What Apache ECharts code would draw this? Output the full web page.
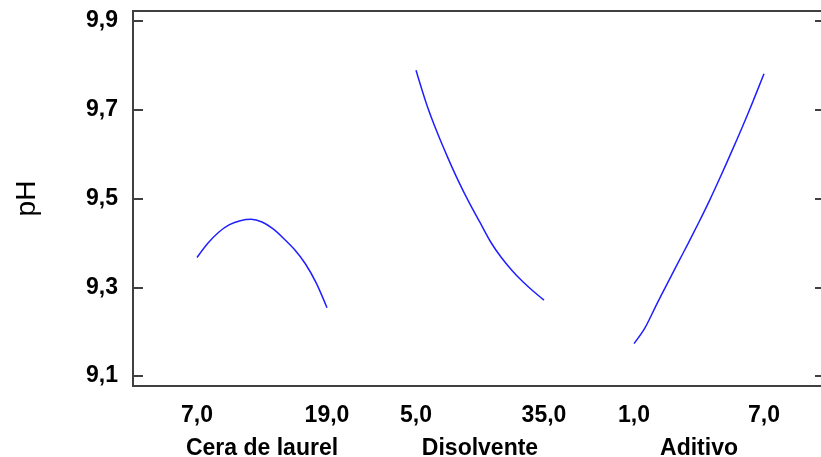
<!DOCTYPE html>
<html>
<head>
<meta charset="utf-8">
<script src="https://cdn.jsdelivr.net/npm/echarts@6/dist/echarts.min.js"></script>
<style>
  html, body { margin: 0; padding: 0; background: #fff; }
  #main { width: 821px; height: 457px; }
</style>
</head>
<body>
<div id="main"></div>
<script>
// y axis
var yMin = 9.0775, yMax = 9.9225;
var yTicks = [9.1, 9.3, 9.5, 9.7, 9.9];

// factors
var factorNames = ['Cera de laurel', 'Disolvente', 'Aditivo'];

var ceraX = [7, 8, 9, 10, 11, 12, 13, 14, 15, 16, 17, 18, 19];
var ceraY = [9.367, 9.399, 9.424, 9.441, 9.450, 9.453, 9.447, 9.432, 9.410, 9.385, 9.353, 9.310, 9.254];

var disX = [5, 7.5, 10, 12.5, 15, 17.5, 20, 22.5, 25, 27.5, 30, 32.5, 35];
var disY = [9.789, 9.712, 9.648, 9.591, 9.538, 9.490, 9.446, 9.402, 9.367, 9.338, 9.313, 9.291, 9.271];

var aditX = [1, 1.5, 2, 2.5, 3, 3.5, 4, 4.5, 5, 5.5, 6, 6.5, 7];
var aditY = [9.173, 9.208, 9.257, 9.305, 9.352, 9.399, 9.447, 9.497, 9.550, 9.605, 9.661, 9.720, 9.781];

var xs = [ceraX, disX, aditX];
var ys = [ceraY, disY, aditY];

var myChart = echarts.init(document.getElementById('main'));

function fmt(v) {
    return v.toFixed(1).replace('.', ',');
}

var TOP = 11, BOTTOM = 71;
var segLeft = [197, 416, 634];
var segWidth = [130, 128, 130];
var labelFont = { fontFamily: 'Liberation Sans', fontWeight: 'bold', fontSize: 23, color: '#000' };

var grids = [{
    left: 133, top: TOP, width: 692, bottom: BOTTOM, outerBoundsMode: 'none',
    show: true, borderColor: '#404040', borderWidth: 2
}];
var xAxes = [{ gridIndex: 0, type: 'value', min: 0, max: 1, show: false }];
var yAxes = [
    {
        gridIndex: 0, type: 'value', min: yMin, max: yMax, position: 'left',
        axisLine: { show: false },
        splitLine: { show: false },
        axisTick: { inside: true, length: 10, lineStyle: { color: '#404040', width: 2 }, customValues: yTicks },
        axisLabel: Object.assign({ margin: 15, formatter: fmt, customValues: yTicks }, labelFont),
        name: 'pH', nameLocation: 'middle', nameRotate: 90, nameGap: 92,
        nameTextStyle: { fontFamily: 'Liberation Sans', fontSize: 28, color: '#000' }
    },
    {
        gridIndex: 0, type: 'value', min: yMin, max: yMax, position: 'right',
        axisLine: { show: false },
        splitLine: { show: false },
        axisLabel: { show: false },
        axisTick: { inside: true, length: 10, lineStyle: { color: '#404040', width: 2 }, customValues: yTicks }
    }
];
var series = [];

for (var i = 0; i < 3; i++) {
    var xv = xs[i];
    var lo = xv[0], hi = xv[xv.length - 1];
    grids.push({ left: segLeft[i], top: TOP, width: segWidth[i], bottom: BOTTOM, outerBoundsMode: 'none' });
    xAxes.push({
        gridIndex: i + 1, type: 'value', min: lo, max: hi,
        axisLine: { show: false },
        axisTick: { show: false },
        splitLine: { show: false },
        axisLabel: Object.assign({ margin: 18, formatter: fmt, customValues: [lo, hi] }, labelFont),
        name: factorNames[i], nameLocation: 'middle', nameGap: 51,
        nameTextStyle: labelFont
    });
    yAxes.push({ gridIndex: i + 1, type: 'value', min: yMin, max: yMax, show: false });
    series.push({
        type: 'line',
        xAxisIndex: i + 1,
        yAxisIndex: i + 2,
        data: xv.map(function (x, k) { return [x, ys[i][k]]; }),
        smooth: 0.3,
        symbol: 'none',
        lineStyle: { color: '#1f1fff', width: 1.5 },
        animation: false
    });
}

var option = {
    backgroundColor: '#fff',
    animation: false,
    grid: grids,
    xAxis: xAxes,
    yAxis: yAxes,
    series: series
};

myChart.setOption(option);
</script>
</body>
</html>
